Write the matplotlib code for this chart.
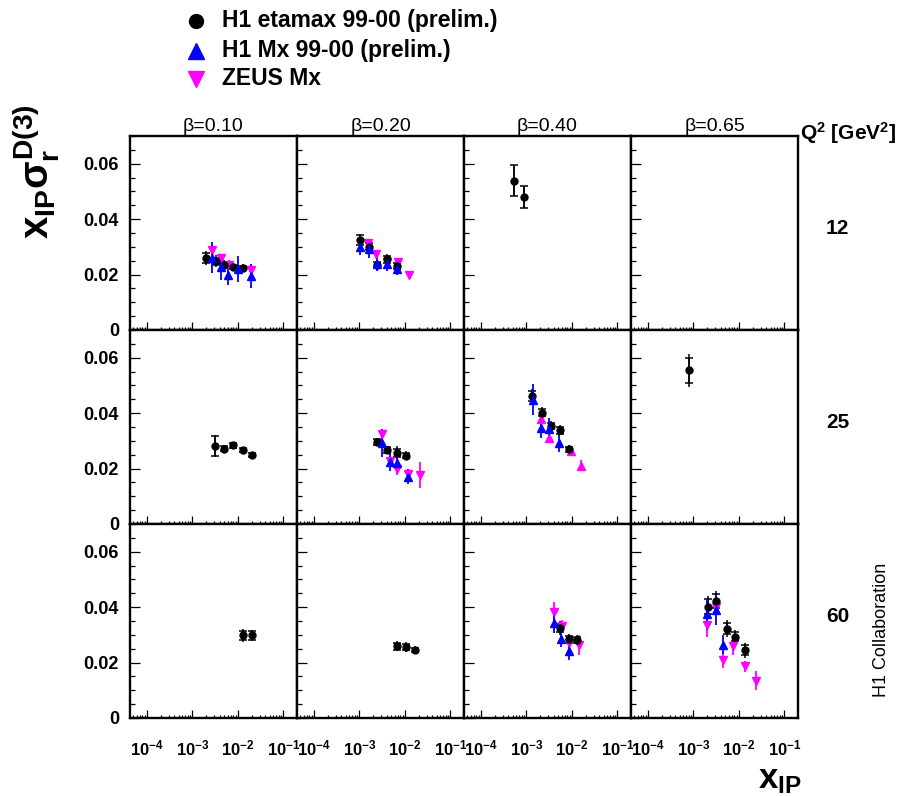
import matplotlib
matplotlib.use("Agg")
import matplotlib.pyplot as plt
from matplotlib.ticker import FixedLocator, FixedFormatter, LogLocator, NullFormatter, MultipleLocator

plt.rcParams['font.family'] = ['Liberation Sans', 'DejaVu Sans']
plt.rcParams['mathtext.fontset'] = 'custom'
plt.rcParams['mathtext.rm'] = 'Liberation Sans:bold'
plt.rcParams['mathtext.it'] = 'Liberation Sans:bold'
plt.rcParams['mathtext.bf'] = 'Liberation Sans:bold'
plt.rcParams['mathtext.sf'] = 'Liberation Sans:bold'

# --- data ---
BETAS = ['0.10', '0.20', '0.40', '0.65']
Q2S = ['12', '25', '60']
LEGEND = ['H1 etamax 99-00 (prelim.)', 'H1 Mx 99-00 (prelim.)', 'ZEUS Mx']
XTICKS = [1e-4, 1e-3, 1e-2, 1e-1]
XTICK_LABELS = [r'$10^{-4}$', r'$10^{-3}$', r'$10^{-2}$', r'$10^{-1}$']
YTICKS = [0, 0.02, 0.04, 0.06]
YTICK_LABELS = ['0', '0.02', '0.04', '0.06']

# H1 etamax: x_IP, value, stat error, total error
eta_12_010 = dict(x=[0.0020, 0.0033, 0.0050, 0.0079, 0.0132], y=[0.0261, 0.0248, 0.0236, 0.0227, 0.0224],
                  stat=[0.0018, 0.0012, 0.0010, 0.0008, 0.0008], tot=[0.0025, 0.0022, 0.0018, 0.0015, 0.0015])
eta_12_020 = dict(x=[0.00105, 0.00162, 0.00245, 0.0041, 0.0068], y=[0.0325, 0.0301, 0.0236, 0.0255, 0.0230],
                  stat=[0.0018, 0.0012, 0.0010, 0.0012, 0.0010], tot=[0.0023, 0.0018, 0.0015, 0.0020, 0.0015])
eta_12_040 = dict(x=[0.00054, 0.00089], y=[0.0539, 0.0480], stat=[0.0055, 0.0038], tot=[0.0055, 0.0038])
eta_25_010 = dict(x=[0.0032, 0.0050, 0.0079, 0.0129, 0.020], y=[0.0281, 0.0272, 0.0284, 0.0267, 0.0248],
                  stat=[0.0035, 0.0008, 0.0008, 0.0008, 0.0008], tot=[0.0039, 0.0012, 0.0012, 0.0012, 0.0012])
eta_25_020 = dict(x=[0.0025, 0.0041, 0.0068, 0.0105], y=[0.0296, 0.0267, 0.0257, 0.0247],
                  stat=[0.0010, 0.0010, 0.0015, 0.0010], tot=[0.0015, 0.0015, 0.0025, 0.0015])
eta_25_040 = dict(x=[0.00132, 0.00219, 0.00347, 0.0055, 0.0087], y=[0.0463, 0.0402, 0.0354, 0.0338, 0.0269],
                  stat=[0.0018, 0.0014, 0.0012, 0.0012, 0.0010], tot=[0.0025, 0.0020, 0.0018, 0.0018, 0.0015])
eta_25_065 = dict(x=[0.00081], y=[0.0554], stat=[0.0045], tot=[0.0060])
eta_60_010 = dict(x=[0.0132, 0.020], y=[0.0298, 0.0298], stat=[0.0015, 0.0015], tot=[0.0022, 0.0020])
eta_60_020 = dict(x=[0.0068, 0.0105, 0.0166], y=[0.0259, 0.0256, 0.0245],
                  stat=[0.0012, 0.0010, 0.0008], tot=[0.0018, 0.0018, 0.0015])
eta_60_040 = dict(x=[0.0054, 0.0087, 0.0132], y=[0.0325, 0.0284, 0.0281],
                  stat=[0.0015, 0.0012, 0.0012], tot=[0.0025, 0.0018, 0.0018])
eta_60_065 = dict(x=[0.00214, 0.0032, 0.0054, 0.0083, 0.0135], y=[0.0402, 0.0423, 0.0322, 0.0293, 0.0245],
                  stat=[0.0028, 0.0026, 0.0020, 0.0016, 0.0018], tot=[0.0039, 0.0036, 0.0030, 0.0024, 0.0027])

# H1 Mx: x_IP, value, total error
mx_12_010 = dict(x=[0.00275, 0.0042, 0.0060, 0.0100, 0.019], y=[0.0261, 0.0227, 0.0198, 0.0221, 0.0194],
                 err=[0.0056, 0.0045, 0.0036, 0.0047, 0.0044])
mx_12_020 = dict(x=[0.00105, 0.00162, 0.00245, 0.0041, 0.0068], y=[0.0299, 0.0291, 0.0239, 0.0239, 0.0221],
                 err=[0.0030, 0.0030, 0.0025, 0.0025, 0.0022])
mx_25_020 = dict(x=[0.0032, 0.0047, 0.0068, 0.0115], y=[0.0293, 0.0223, 0.0221, 0.0170],
                 err=[0.0050, 0.0032, 0.0035, 0.0027])
mx_25_040 = dict(x=[0.00143, 0.00209, 0.0032, 0.0052], y=[0.0448, 0.0348, 0.0342, 0.0291],
                 err=[0.0056, 0.0036, 0.0042, 0.0030])
mx_60_040 = dict(x=[0.0041, 0.0059, 0.0085], y=[0.0342, 0.0286, 0.0241], err=[0.0036, 0.0030, 0.0030])
mx_60_065 = dict(x=[0.00204, 0.0031, 0.0046], y=[0.0374, 0.0390, 0.0265], err=[0.0057, 0.0053, 0.0033])

# ZEUS Mx: x_IP, value, total error
zeus_12_010 = dict(x=[0.00275, 0.0042, 0.0063, 0.019], y=[0.0288, 0.0258, 0.0236, 0.0215],
                   err=[0.0020, 0.0018, 0.0015, 0.0018])
zeus_12_020 = dict(x=[0.00155, 0.00235, 0.0040, 0.0069, 0.0123], y=[0.0315, 0.0273, 0.0246, 0.0244, 0.0198],
                   err=[0.0012, 0.0012, 0.0012, 0.0012, 0.0010])
zeus_25_020 = dict(x=[0.0032, 0.0047, 0.0068, 0.0115, 0.021], y=[0.0324, 0.0226, 0.0200, 0.0182, 0.0176],
                   err=[0.0020, 0.0020, 0.0022, 0.0015, 0.0047])
zeus_25_040 = dict(x=[0.00209, 0.0031, 0.0095, 0.0162], y=[0.0378, 0.0312, 0.0263, 0.0211],
                   err=[0.0010, 0.0018, 0.0010, 0.0020])
zeus_60_040 = dict(x=[0.0041, 0.0062, 0.0087, 0.0145], y=[0.0381, 0.0332, 0.0272, 0.0265],
                   err=[0.0039, 0.0020, 0.0015, 0.0036])
zeus_60_065 = dict(x=[0.00204, 0.0031, 0.0046, 0.0076, 0.0135, 0.0234],
                   y=[0.0334, 0.0402, 0.0211, 0.0259, 0.0187, 0.0135],
                   err=[0.0042, 0.0015, 0.0030, 0.0030, 0.0020, 0.0033])

# (row, col) -> (etamax, Mx, ZEUS)
PANELS = {
    (0, 0): (eta_12_010, mx_12_010, zeus_12_010),
    (0, 1): (eta_12_020, mx_12_020, zeus_12_020),
    (0, 2): (eta_12_040, None, None),
    (1, 0): (eta_25_010, None, None),
    (1, 1): (eta_25_020, mx_25_020, zeus_25_020),
    (1, 2): (eta_25_040, mx_25_040, zeus_25_040),
    (1, 3): (eta_25_065, None, None),
    (2, 0): (eta_60_010, None, None),
    (2, 1): (eta_60_020, None, None),
    (2, 2): (eta_60_040, mx_60_040, zeus_60_040),
    (2, 3): (eta_60_065, mx_60_065, zeus_60_065),
}
ZEUS_MARKER = {(1, 2): '^'}

BLUE = '#0000ff'
MAGENTA = '#ff00ff'

# --- layout (pixels) ---
W, H = 918, 796
LEFT, PW = 130, 167
TOP, PH = 136, 194

fig = plt.figure(figsize=(W / 100, H / 100), dpi=100)

for r in range(3):
    for c in range(4):
        ax = fig.add_axes([(LEFT + c * PW) / W, 1 - (TOP + (r + 1) * PH) / H, PW / W, PH / H])
        ax.set_xscale('log')
        ax.set_xlim(10 ** -4.37, 10 ** -0.70)
        ax.set_ylim(0, 0.07)
        for s in ax.spines.values():
            s.set_linewidth(1.7)

        ax.xaxis.set_major_locator(FixedLocator(XTICKS))
        ax.xaxis.set_minor_locator(LogLocator(base=10, subs=range(2, 10), numticks=20))
        ax.xaxis.set_minor_formatter(NullFormatter())
        ax.yaxis.set_major_locator(FixedLocator(YTICKS))
        ax.yaxis.set_minor_locator(MultipleLocator(0.005))
        ax.tick_params(which='both', direction='in', top=False, right=False, width=0.9)
        ax.tick_params(axis='y', which='major', length=7)
        ax.tick_params(axis='y', which='minor', length=3.5)
        ax.tick_params(axis='x', which='major', length=6)
        ax.tick_params(axis='x', which='minor', length=2.5)

        if r == 2:
            ax.xaxis.set_major_formatter(FixedFormatter(XTICK_LABELS))
            ax.tick_params(axis='x', which='major', labelsize=12, pad=15)
        else:
            ax.xaxis.set_major_formatter(NullFormatter())
        if c == 0:
            ax.yaxis.set_major_formatter(FixedFormatter(YTICK_LABELS))
            ax.tick_params(axis='y', labelsize=13, pad=8)
            for lab in ax.get_yticklabels():
                lab.set_fontweight('bold')
        else:
            ax.yaxis.set_major_formatter(NullFormatter())

        eta, mx, zeus = PANELS.get((r, c), (None, None, None))
        if zeus is not None:
            ax.errorbar(zeus['x'], zeus['y'], yerr=zeus['err'], fmt=ZEUS_MARKER.get((r, c), 'v'),
                        color=MAGENTA, ms=6, elinewidth=1.3, capsize=0)
        if eta is not None:
            ax.errorbar(eta['x'], eta['y'], yerr=eta['tot'], fmt='none', ecolor='k', elinewidth=1.1, capsize=0)
            ax.errorbar(eta['x'], eta['y'], yerr=eta['stat'], fmt='o', color='k', ms=5,
                        elinewidth=1.1, capsize=3, capthick=1.1)
        if mx is not None:
            ax.errorbar(mx['x'], mx['y'], yerr=mx['err'], fmt='^', color=BLUE, ms=6,
                        elinewidth=1.3, capsize=0)

        if r == 0:
            ax.text(0.5, 1.004, '\u03b2=' + BETAS[c], transform=ax.transAxes,
                    ha='center', va='bottom', fontsize=14)

# row labels
for r, q in enumerate(Q2S):
    fig.text(826 / W, 1 - (TOP + r * PH + 92) / H, q, fontsize=15, fontweight='bold', ha='left', va='center')
fig.text(800 / W, 1 - 133 / H, r'Q$^{2}$ [GeV$^{2}$]', fontsize=15, fontweight='bold', ha='left', va='center')
fig.text(882 / W, 1 - 630 / H, 'H1 Collaboration', fontsize=13, rotation=90, ha='center', va='center')

# axis titles
fig.text(36 / W, 1 - 104 / H, r'$x_{IP}\sigma_{r}^{D(3)}$', fontsize=29, rotation=90, ha='center', va='top')
fig.text(801 / W, 0, r'$x_{IP}$', fontsize=25, ha='right', va='bottom')

# legend
leg_rows = [20.7, 51, 78.5]
leg_style = [dict(marker='o', color='k', ms=10), dict(marker='^', color=BLUE, ms=11),
             dict(marker='v', color=MAGENTA, ms=11)]
for lab, yy, st in zip(LEGEND, leg_rows, leg_style):
    fig.lines.append(plt.Line2D([196 / W], [1 - yy / H], linestyle='none', transform=fig.transFigure, **st))
    fig.text(222 / W, 1 - yy / H, lab, fontsize=16.5, fontweight='bold', ha='left', va='center')

fig.savefig('out.png', dpi=100)
